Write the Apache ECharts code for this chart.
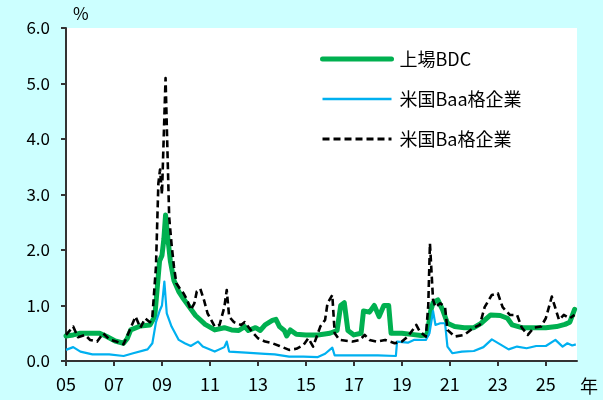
<!DOCTYPE html>
<html>
<head>
<meta charset="utf-8">
<script src="https://cdn.jsdelivr.net/npm/echarts@6/dist/echarts.min.js"></script>
<style>
  html, body { margin: 0; padding: 0; background: #ccffff; }
  #chart { width: 603px; height: 400px; }
</style>
</head>
<body>
<div id="chart"></div>
<script>
// Spread series (%), x in decimal years
const bdcYears = [2005.0,2005.3,2005.6,2006.0,2006.4,2006.7,2007.05,2007.4,2007.55,2007.7,2008.1,2008.5,2008.7,2008.8,2008.9,2009.0,2009.08,2009.15,2009.25,2009.35,2009.5,2009.6,2009.7,2009.85,2010.1,2010.4,2010.8,2011.2,2011.6,2011.9,2012.2,2012.45,2012.6,2012.9,2013.1,2013.3,2013.6,2013.75,2013.9,2014.1,2014.2,2014.35,2014.6,2015.0,2015.5,2016.0,2016.3,2016.45,2016.6,2016.75,2017.0,2017.3,2017.4,2017.65,2017.85,2018.05,2018.25,2018.45,2018.55,2019.0,2019.4,2019.8,2020.05,2020.2,2020.3,2020.5,2020.7,2020.9,2021.2,2021.6,2022.0,2022.3,2022.7,2023.1,2023.4,2023.6,2024.0,2024.5,2025.0,2025.45,2025.8,2026.0,2026.2];
const bdcValues = [0.45,0.47,0.50,0.50,0.50,0.44,0.36,0.32,0.40,0.56,0.63,0.65,0.80,1.30,1.80,1.90,2.20,2.63,2.20,1.80,1.45,1.35,1.25,1.15,1.00,0.82,0.66,0.56,0.60,0.56,0.55,0.62,0.55,0.60,0.55,0.65,0.73,0.75,0.62,0.55,0.45,0.56,0.48,0.47,0.47,0.50,0.55,1.00,1.05,0.55,0.47,0.50,0.90,0.88,1.00,0.80,1.00,1.00,0.50,0.50,0.48,0.46,0.47,0.90,1.05,1.10,0.92,0.68,0.62,0.60,0.60,0.68,0.83,0.82,0.77,0.65,0.60,0.60,0.60,0.62,0.66,0.70,0.93];

const baaYears = [2005.0,2005.3,2005.6,2006.1,2006.8,2007.4,2007.8,2008.4,2008.6,2008.75,2008.9,2009.0,2009.1,2009.2,2009.4,2009.7,2009.95,2010.2,2010.5,2010.7,2011.2,2011.6,2011.7,2011.8,2012.5,2013.3,2013.7,2014.3,2014.9,2015.5,2015.8,2016.1,2016.2,2017.0,2018.0,2018.75,2018.8,2019.25,2019.5,2020.0,2020.15,2020.3,2020.4,2020.6,2020.8,2020.9,2021.1,2021.5,2022.0,2022.4,2022.75,2023.1,2023.45,2023.8,2024.2,2024.6,2025.0,2025.4,2025.7,2025.9,2026.1,2026.25];
const baaValues = [0.20,0.25,0.17,0.12,0.12,0.09,0.14,0.21,0.32,0.70,0.90,1.00,1.43,0.86,0.62,0.38,0.32,0.27,0.35,0.26,0.17,0.25,0.35,0.17,0.15,0.13,0.12,0.08,0.08,0.07,0.13,0.24,0.10,0.10,0.10,0.09,0.35,0.33,0.38,0.38,0.50,0.90,0.65,0.68,0.68,0.26,0.14,0.17,0.18,0.25,0.39,0.30,0.21,0.26,0.23,0.27,0.27,0.38,0.26,0.32,0.28,0.30];

const baYears = [2005.0,2005.3,2005.5,2005.8,2006.0,2006.3,2006.55,2006.8,2007.1,2007.4,2007.6,2007.9,2008.1,2008.3,2008.5,2008.6,2008.75,2008.85,2008.92,2009.0,2009.15,2009.3,2009.4,2009.5,2009.6,2009.75,2009.9,2010.05,2010.2,2010.35,2010.45,2010.6,2010.75,2010.9,2011.2,2011.4,2011.6,2011.7,2011.8,2012.0,2012.3,2012.45,2012.75,2013.0,2013.3,2013.6,2013.9,2014.3,2014.6,2014.9,2015.1,2015.3,2015.6,2015.8,2015.9,2016.1,2016.2,2016.4,2016.95,2017.25,2017.45,2017.65,2017.95,2018.3,2018.7,2019.0,2019.25,2019.6,2019.75,2020.0,2020.1,2020.17,2020.3,2020.4,2020.6,2020.8,2020.9,2021.2,2021.6,2022.0,2022.25,2022.45,2022.75,2023.0,2023.2,2023.5,2023.8,2024.0,2024.25,2024.5,2024.8,2025.0,2025.25,2025.55,2025.75,2026.0,2026.2];
const baValues = [0.47,0.62,0.43,0.47,0.38,0.35,0.50,0.39,0.35,0.30,0.50,0.80,0.60,0.77,0.70,0.80,1.70,3.20,3.45,3.00,5.10,2.60,2.10,1.70,1.40,1.30,1.22,1.10,0.92,1.04,1.25,1.30,1.10,0.86,0.62,0.65,0.97,1.28,0.80,0.70,0.65,0.70,0.53,0.41,0.35,0.32,0.27,0.20,0.22,0.29,0.41,0.26,0.62,0.74,1.04,1.19,0.50,0.38,0.35,0.38,0.47,0.38,0.35,0.38,0.32,0.35,0.44,0.65,0.53,0.44,1.00,2.12,1.10,0.97,1.04,0.97,0.56,0.44,0.47,0.60,0.65,0.97,1.19,1.22,0.97,0.83,0.83,0.60,0.47,0.60,0.62,0.77,1.16,0.74,0.83,0.77,0.83];

const seriesNames = ['上場BDC', '米国Baa格企業', '米国Ba格企業'];
const yearTicks = [2005, 2007, 2009, 2011, 2013, 2015, 2017, 2019, 2021, 2023, 2025];

const pair = (xs, ys) => xs.map((x, i) => [x, ys[i]]);
const labelFont = '"Noto Sans CJK JP", "Noto Sans", sans-serif';

const chart = echarts.init(document.getElementById('chart'), null, { renderer: 'canvas' });
chart.setOption({
  animation: false,
  backgroundColor: '#ccffff',
  grid: {
    left: 66, right: 26, top: 28, bottom: 39,
    show: true, backgroundColor: '#ffffff', borderWidth: 0
  },
  legend: {
    orient: 'vertical',
    left: 320, top: 50,
    padding: 0,
    itemWidth: 69, itemHeight: 20, itemGap: 22,
    data: [
      { name: seriesNames[0], lineStyle: { width: 5, cap: 'round' } },
      { name: seriesNames[1], lineStyle: { width: 2.5 } },
      { name: seriesNames[2], lineStyle: { width: 2.8 } }
    ],
    // line-only keys: hide the marker that line series add to legend icons
    itemStyle: { opacity: 0 },
    textStyle: { fontFamily: labelFont, fontSize: 18, color: '#000', padding: [0, 0, 0, 3] }
  },
  xAxis: {
    type: 'value',
    min: 2005, max: 2026.3,
    axisLine: { show: true, onZero: false, lineStyle: { color: '#333', width: 2 } },
    axisTick: { show: true, length: 5, customValues: yearTicks, lineStyle: { color: '#333', width: 2 } },
    axisLabel: {
      customValues: yearTicks,
      margin: 14,
      fontFamily: labelFont, fontSize: 18, color: '#000',
      formatter: v => String(Math.round(v) % 100).padStart(2, '0')
    },
    splitLine: { show: false }
  },
  yAxis: {
    type: 'value',
    min: 0, max: 6, interval: 1,
    axisLine: { show: true, lineStyle: { color: '#333', width: 2 } },
    axisTick: { show: true, length: 5, lineStyle: { color: '#333', width: 2 } },
    axisLabel: {
      margin: 16,
      fontFamily: labelFont, fontSize: 17, color: '#000',
      formatter: v => v.toFixed(1)
    },
    splitLine: { show: false }
  },
  graphic: [
    { type: 'text', left: 73, top: 5, style: { text: '%', font: '17px ' + labelFont, fill: '#000' } },
    { type: 'text', left: 580, top: 377, style: { text: '年', font: '18px ' + labelFont, fill: '#000' } }
  ],
  series: [
    {
      name: seriesNames[0], type: 'line', data: pair(bdcYears, bdcValues),
      symbol: 'none', z: 2,
      lineStyle: { color: '#00b050', width: 5, cap: 'round', join: 'round' },
      itemStyle: { color: '#00b050' }
    },
    {
      name: seriesNames[1], type: 'line', data: pair(baaYears, baaValues),
      symbol: 'none', z: 3,
      lineStyle: { color: '#00b0f0', width: 2.2, join: 'round' },
      itemStyle: { color: '#00b0f0' }
    },
    {
      name: seriesNames[2], type: 'line', data: pair(baYears, baValues),
      symbol: 'none', z: 4,
      lineStyle: { color: '#000000', width: 2.6, type: [7, 4], join: 'round' },
      itemStyle: { color: '#000000' }
    }
  ]
});
</script>
</body>
</html>
